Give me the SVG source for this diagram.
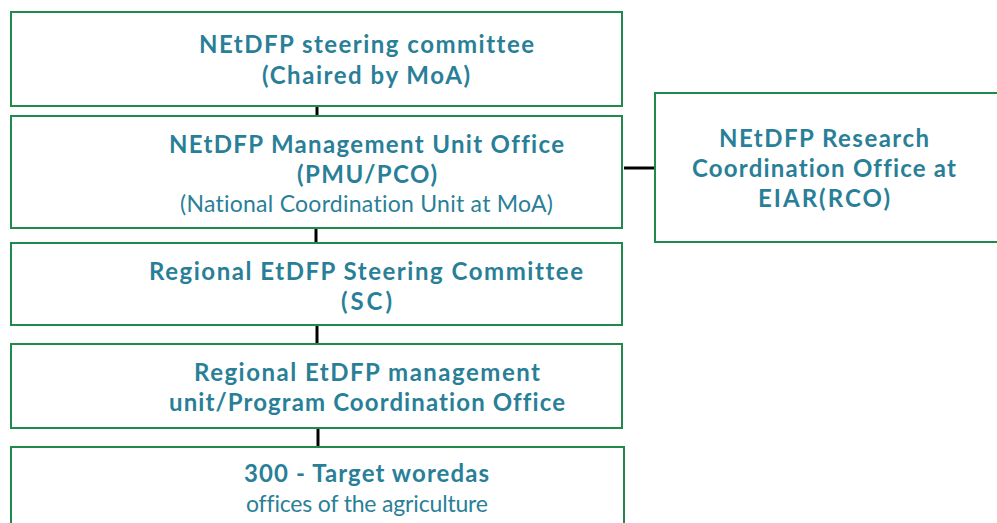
<svg xmlns="http://www.w3.org/2000/svg" width="997" height="523" viewBox="0 0 997 523">
<style>
.box{fill:#fff;stroke:#1f8a4c;stroke-width:2}
.b{font-family:Lato,"Open Sans",sans-serif;font-weight:bold;font-size:24px;fill:#2a7f98;text-anchor:middle;font-variant-ligatures:none}
.r{font-family:Lato,"Open Sans",sans-serif;font-size:23px;fill:#2a7f98;text-anchor:middle;font-variant-ligatures:none}
.c{stroke:#000;stroke-width:3;fill:none}
</style>
<rect width="997" height="523" fill="#fff"/>
<g id="connectors">
<line class="c" x1="317" y1="106" x2="317" y2="116"/>
<line class="c" x1="316" y1="228" x2="316" y2="243"/>
<line class="c" x1="317" y1="325" x2="317" y2="344"/>
<line class="c" x1="318" y1="428" x2="318" y2="447"/>
<line class="c" x1="624" y1="168" x2="655" y2="168"/>
</g>
<g id="steering">
<rect class="box" x="11" y="12" width="611" height="94"/>
<text class="b" x="366.5" y="53" textLength="335" lengthAdjust="spacing">NEtDFP steering committee</text>
<text class="b" x="366" y="84" textLength="208" lengthAdjust="spacing">(Chaired by MoA)</text>
</g>
<g id="pmu">
<rect class="box" x="11" y="116" width="611" height="112"/>
<text class="b" x="366.5" y="153" textLength="395" lengthAdjust="spacing">NEtDFP Management Unit Office</text>
<text class="b" x="367" y="183" textLength="140" lengthAdjust="spacing">(PMU/PCO)</text>
<text class="r" x="366.5" y="212" textLength="373" lengthAdjust="spacing">(National Coordination Unit at MoA)</text>
</g>
<g id="rco">
<rect class="box" x="655" y="93" width="350" height="149"/>
<text class="b" x="824" y="147" textLength="210" lengthAdjust="spacing">NEtDFP Research</text>
<text class="b" x="824" y="177" textLength="264" lengthAdjust="spacing">Coordination Office at</text>
<text class="b" x="824" y="207" textLength="132" lengthAdjust="spacing">EIAR(RCO)</text>
</g>
<g id="regional-sc">
<rect class="box" x="11" y="243" width="611" height="82"/>
<text class="b" x="366" y="280" textLength="434" lengthAdjust="spacing">Regional EtDFP Steering Committee</text>
<text class="b" x="366.5" y="310" textLength="51" lengthAdjust="spacing">(SC)</text>
</g>
<g id="regional-pmu">
<rect class="box" x="11" y="344" width="611" height="84"/>
<text class="b" x="367" y="381" textLength="346" lengthAdjust="spacing">Regional EtDFP management</text>
<text class="b" x="367" y="411" textLength="396" lengthAdjust="spacing">unit/Program Coordination Office</text>
</g>
<g id="woredas">
<rect class="box" x="11" y="447" width="613" height="90"/>
<text class="b" x="366.5" y="482" textLength="245" lengthAdjust="spacing">300 - Target woredas</text>
<text class="r" x="367" y="512" textLength="242" lengthAdjust="spacing">offices of the agriculture</text>
</g>
</svg>
